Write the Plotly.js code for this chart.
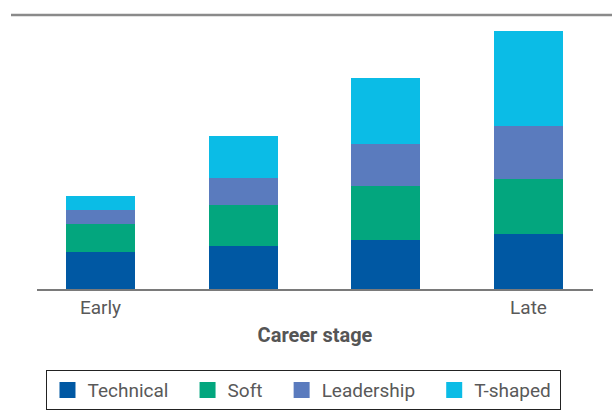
<!DOCTYPE html>
<html>
<head>
<meta charset="utf-8">
<script src="https://cdn.plot.ly/plotly-3.0.1.min.js"></script>
<style>html,body{margin:0;padding:0;background:#fff;}#chart{width:612px;height:415px;}</style>
</head>
<body>
<div id="chart"></div>
<script>
// Data (arbitrary units)
var stages = [0, 1, 2, 3];
var tickLabels = ['Early', '', '', 'Late'];
var technical = [37, 43, 49, 55];
var soft = [28, 41, 54, 55];
var leadership = [14, 27, 42, 53];
var tShaped = [14, 42, 66, 95];
var seriesNames = ['Technical', 'Soft', 'Leadership', 'T-shaped'];
var seriesColors = ['#0058A3', '#03A67E', '#5A7BBE', '#0BBCE6'];

var NB = '\u00a0';
var seriesValues = [technical, soft, leadership, tShaped];
var traces = seriesValues.map(function (vals, i) {
  var pad = (i < seriesValues.length - 1) ? NB + NB + NB : NB;
  return {
    type: 'bar',
    x: stages,
    y: vals,
    name: seriesNames[i] + pad,
    marker: { color: seriesColors[i], line: { width: 0 } },
    hoverinfo: 'none'
  };
});

var plotL = 37, plotR = 593;
var layout = {
  width: 612,
  height: 415,
  barmode: 'stack',
  bargap: 0.516,
  margin: { l: plotL, r: 612 - plotR, t: 15, b: 126, autoexpand: false },
  paper_bgcolor: '#ffffff',
  plot_bgcolor: '#ffffff',
  font: { family: 'Roboto, sans-serif', color: '#595959', size: 19 },
  xaxis: {
    range: [-0.445, 3.452],
    tickvals: stages,
    ticktext: tickLabels,
    showline: true,
    linecolor: '#7a7a7a',
    linewidth: 1.5,
    ticks: '',
    ticklabelstandoff: 1,
    showgrid: false,
    zeroline: false,
    automargin: false,
    tickfont: { size: 19, color: '#595959' },
    title: { text: '<b>Career stage</b>', font: { size: 20, color: '#555555' }, standoff: 9 }
  },
  yaxis: {
    range: [0, 274],
    visible: false,
    showgrid: false,
    zeroline: false
  },
  showlegend: true,
  legend: {
    orientation: 'h',
    x: 0.4802,
    xanchor: 'center',
    y: -0.296,
    yanchor: 'top',
    bordercolor: '#222222',
    borderwidth: 1,
    font: { size: 19, color: '#595959' },
    traceorder: 'normal'
  },
  shapes: [{
    type: 'line',
    xref: 'paper', yref: 'paper',
    x0: (11 - plotL) / (plotR - plotL), x1: (612 - plotL) / (plotR - plotL),
    y0: 1, y1: 1,
    line: { color: '#8a8a8a', width: 2.5 }
  }]
};

Plotly.newPlot('chart', traces, layout, { displayModeBar: false, staticPlot: true }).then(function () {
  document.querySelectorAll('.legendpoints path').forEach(function (p) {
    p.setAttribute('d', 'M8,8H-8V-8H8Z');
  });
});
</script>
</body>
</html>
